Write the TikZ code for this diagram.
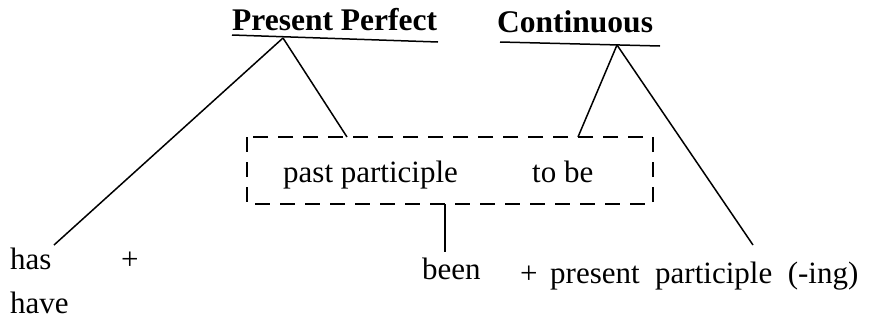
\documentclass[tikz,border=0pt]{standalone}
\usepackage{fontspec}
\setmainfont{Liberation Serif}
\usepackage{tikz}

\tikzset{
  word/.style={anchor=base west,inner sep=0pt,font=\fontsize{31}{36}\selectfont},
  head/.style={anchor=base west,inner sep=0pt,font=\fontsize{31.5}{36}\selectfont\bfseries},
  branch/.style={line width=1.5pt},
  dashbox/.style={line width=1.6pt,dash pattern=on 15pt off 10pt}
}

\begin{document}
\begin{tikzpicture}[x=1pt,y=-1pt]
        \useasboundingbox (0,0) rectangle (870,322);
        % headings with their bars
        \node[head] at (232,30) (PP) {Present Perfect};
        \node[head] at (497,32) (Cont) {Continuous};
        \coordinate (PPl) at (232,35);
        \coordinate (PPr) at (438,42);
        \coordinate (Cl) at (500,42);
        \coordinate (Cr) at (660,46);
        \draw[branch] (PPl) -- (PPr);
        \draw[branch] (Cl) -- (Cr);
        \coordinate (PPtop) at (283,38);
        \coordinate (Ctop) at (617,45);
        % the dashed box
        \coordinate (boxNW) at (247,137);
        \coordinate (boxSE) at (653,204);
        \draw[dashbox] (boxNW) rectangle (boxSE);
        \node[word] at (283,182) (pastp) {past participle};
        \node[word] at (532,182) (tobe) {to be};
        \coordinate (boxPP) at (347,137);
        \coordinate (boxC) at (578,137);
        \coordinate (boxS) at (445,204);
        % bottom line
        \node[word] at (10,269) (has) {has};
        \node[word] at (10,313) (have) {have};
        \node[word] at (121,269) (plusA) {+};
        \node[word] at (422,279) (been) {been};
        \node[word] at (520,283) (plusB) {+};
        \node[word] at (550,283) (presp) {present~~participle~~(-ing)};
        \coordinate (hasend) at (54,245);
        \coordinate (beenend) at (445,252);
        \coordinate (prespend) at (753,245);
        % branches
        \draw[branch] (PPtop) -- (hasend);
        \draw[branch] (PPtop) -- (boxPP);
        \draw[branch] (Ctop) -- (boxC);
        \draw[branch] (Ctop) -- (prespend);
        \draw[branch] (boxS) -- (beenend);
    \end{tikzpicture}
\end{document}
